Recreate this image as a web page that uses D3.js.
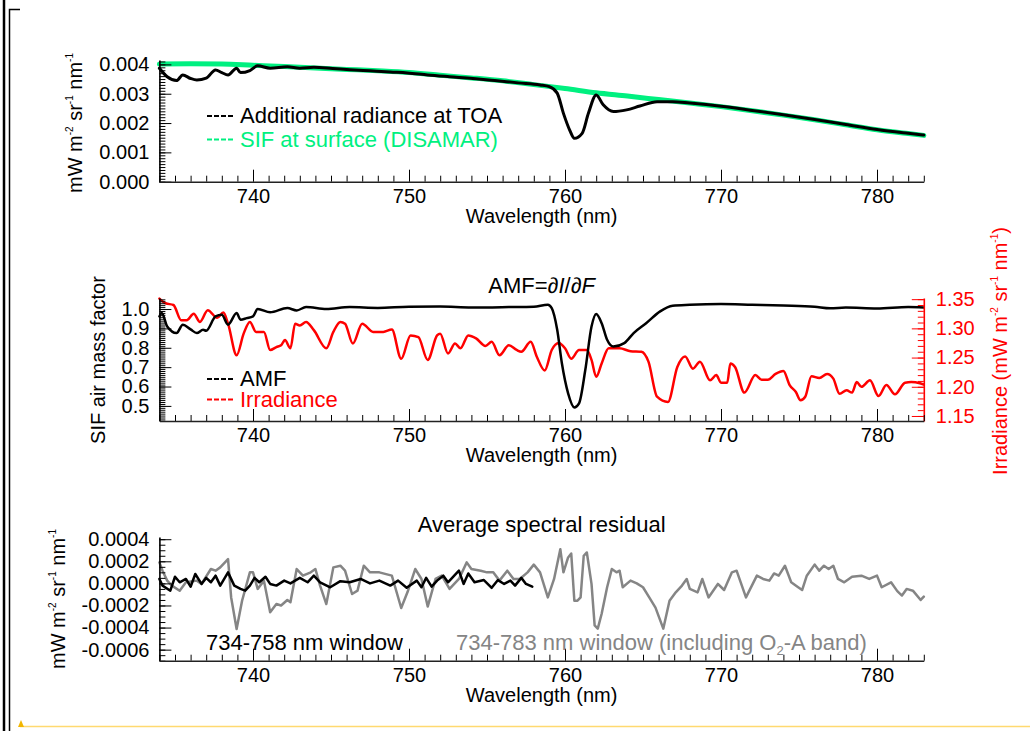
<!DOCTYPE html>
<html>
<head>
<meta charset="utf-8">
<script src="https://cdn.jsdelivr.net/npm/d3@7"></script>
<style>
body{margin:0;background:#fff;}
</style>
</head>
<body>
<svg id="chart" width="1030" height="731"></svg>
<script>
// ---- data (wavelength nm, value) ----
const sifSurface = [[734,0.00401],[736,0.00402],[738,0.00401],[740,0.00397],[742,0.00393],[744,0.00388],[746,0.00383],[748,0.00378],[750,0.00372],[752,0.00363],[754,0.00354],[756,0.00344],[758,0.00331],[760,0.00318],[762,0.00303],[764,0.00292],[766,0.00280],[768,0.00268],[770,0.00256],[772,0.00242],[774,0.00227],[776,0.00211],[778,0.00194],[780,0.00177],[782,0.00164],[783,0.00158]];

const toaRadiance = [[734.0,0.00387],[734.5,0.00358],[735.1,0.00345],[735.5,0.00364],[736.0,0.00352],[736.4,0.00347],[737.0,0.00353],[737.6,0.00381],[738.0,0.00372],[738.4,0.00364],[738.95,0.00387],[739.2,0.00372],[739.8,0.00379],[740.3,0.00395],[741.1,0.00387],[742.2,0.00392],[743.0,0.00387],[743.9,0.00390],[745.1,0.00386],[746.2,0.00382],[747.5,0.00378],[748.8,0.00374],[749.9,0.00371],[751.2,0.00364],[752.6,0.00358],[754.1,0.00352],[755.5,0.00345],[757.0,0.00337],[758.4,0.00330],[759.0,0.00324],[759.5,0.00302],[759.9,0.00233],[760.3,0.00176],[760.6,0.00148],[761.1,0.00165],[761.5,0.00233],[762.0,0.00296],[762.45,0.00262],[763.1,0.00239],[763.95,0.00245],[764.8,0.00258],[765.9,0.00273],[766.9,0.00273],[768.0,0.00268],[770.0,0.00257],[772.0,0.00243],[774.0,0.00228],[776.0,0.00212],[778.0,0.00195],[780.0,0.00178],[782.0,0.00165],[783.0,0.00159]];

const amf = [[734.0,0.962],[734.15,0.98],[734.5,0.91],[735.1,0.876],[735.5,0.919],[736.0,0.895],[736.4,0.876],[736.8,0.893],[737.0,0.888],[737.6,0.962],[738.0,0.97],[738.4,0.919],[738.95,0.979],[739.2,0.945],[739.6,0.953],[740.0,0.962],[740.3,1.0],[741.1,0.983],[742.2,1.005],[742.8,0.993],[743.4,1.01],[744.7,1.0],[746.2,1.01],[748.0,1.006],[750.0,1.012],[752.0,1.013],[754.0,1.008],[756.4,1.01],[758.0,1.012],[758.9,1.022],[759.15,1.005],[759.5,0.893],[759.8,0.72],[760.2,0.565],[760.6,0.492],[760.9,0.513],[761.3,0.685],[761.7,0.91],[762.0,0.975],[762.35,0.927],[762.7,0.841],[763.1,0.806],[763.8,0.824],[764.4,0.876],[765.2,0.927],[766.1,0.988],[766.9,1.017],[768.0,1.022],[770.0,1.026],[772.0,1.022],[774.0,1.018],[776.0,1.012],[777.0,1.004],[778.0,1.008],[780.0,1.003],[782.0,1.01],[783.0,1.008]];

const irradiance = [[734.0,1.351],[734.4,1.343],[734.9,1.340],[735.4,1.314],[735.75,1.314],[736.2,1.325],[736.6,1.311],[737.1,1.331],[737.7,1.318],[738.1,1.327],[738.4,1.308],[738.95,1.254],[739.4,1.291],[739.8,1.311],[740.2,1.294],[740.7,1.294],[741.1,1.263],[741.5,1.268],[741.8,1.271],[742.05,1.280],[742.4,1.266],[742.7,1.308],[743.0,1.305],[743.4,1.311],[743.9,1.297],[744.7,1.266],[745.15,1.294],[745.6,1.311],[745.9,1.308],[746.4,1.274],[747.0,1.308],[747.7,1.294],[748.35,1.294],[748.9,1.298],[749.5,1.248],[750.1,1.288],[750.6,1.285],[751.2,1.246],[751.8,1.288],[752.0,1.291],[752.5,1.257],[752.95,1.274],[753.3,1.266],[753.8,1.288],[754.3,1.283],[754.9,1.270],[755.3,1.277],[755.8,1.254],[756.4,1.271],[756.9,1.263],[757.2,1.260],[757.8,1.277],[758.2,1.251],[758.7,1.228],[759.15,1.263],[759.6,1.275],[760.0,1.266],[760.4,1.248],[760.9,1.263],[761.4,1.263],[761.7,1.246],[762.0,1.217],[762.35,1.240],[762.8,1.266],[763.5,1.266],[764.2,1.261],[764.9,1.260],[765.35,1.243],[765.9,1.183],[766.6,1.174],[767.2,1.234],[767.7,1.252],[768.2,1.231],[768.65,1.243],[769.3,1.211],[769.7,1.220],[770.0,1.207],[770.4,1.207],[770.6,1.240],[770.9,1.234],[771.5,1.190],[772.2,1.220],[772.6,1.212],[773.0,1.212],[773.5,1.222],[774.0,1.227],[774.4,1.203],[774.8,1.191],[775.1,1.177],[775.4,1.183],[775.8,1.218],[776.3,1.215],[776.8,1.222],[777.2,1.214],[777.6,1.188],[778.05,1.194],[778.4,1.190],[778.7,1.208],[779.0,1.200],[779.55,1.211],[780.1,1.184],[780.6,1.203],[781.15,1.187],[781.8,1.207],[782.2,1.208],[782.75,1.206],[783.0,1.204]];

const residualFull = [[734.0,0.00019],[734.2,0.000115],[734.5,0.000025],[734.8,-0.00002],[735.3,-0.000066],[735.7,0.00001],[736.4,0.000025],[736.7,-0.000005],[737.3,0.00013],[737.6,0.000115],[737.9,0.000145],[738.4,0.00022],[738.6,-0.000127],[738.95,-0.000413],[739.3,-0.000157],[739.8,0.0001],[740.0,0.0001],[740.3,-0.00005],[740.7,0.000025],[741.1,-0.000262],[741.5,-0.000187],[741.8,-0.0002],[742.2,-0.00015],[742.4,-0.00017],[742.8,0.00013],[743.2,0.00007],[743.7,0.0001],[744.0,0.00013],[744.3,-0.00002],[744.7,-0.000187],[745.15,0.000145],[745.6,0.00016],[745.9,0.000115],[746.35,-0.000096],[746.7,-0.000066],[747.1,0.00016],[747.5,0.0001],[748.1,0.0001],[748.9,0.00007],[749.5,-0.000223],[749.9,-0.000081],[750.4,0.00013],[750.8,0.00004],[751.2,-0.00021],[751.7,0.00004],[752.1,0.00007],[752.6,-0.00005],[753.2,0.00004],[753.7,0.00019],[754.0,0.00013],[754.6,0.000115],[755.0,0.0001],[755.4,0.0001],[755.8,0.000025],[756.3,0.000115],[756.7,0.00004],[757.1,0.00004],[757.6,0.0001],[758.0,0.00017],[758.4,0.0001],[758.9,-0.000127],[759.3,0.00004],[759.7,0.00031],[759.9,0.0001],[760.2,0.000235],[760.4,0.00027],[760.6,-0.000157],[760.8,-0.000157],[761.0,-0.000127],[761.2,0.00025],[761.4,0.00028],[761.7,-0.000005],[761.9,-0.00038],[762.1,-0.00041],[762.35,-0.000275],[762.7,-0.000035],[763.0,0.00013],[763.3,0.0001],[763.5,0.000115],[763.7,-0.000035],[764.2,0.000025],[764.6,0],[765.0,-0.000035],[765.4,-0.000127],[765.8,-0.00022],[766.3,-0.00041],[766.7,-0.000157],[767.1,-0.000081],[767.5,-0.00002],[767.8,0.00004],[768.0,-0.00005],[768.5,-0.000081],[768.8,0.00004],[769.2,-0.000127],[769.8,-0.000005],[770.2,-0.00006],[770.7,0.0001],[771.0,0.000115],[771.6,-0.000127],[772.3,0.00007],[772.7,0.00004],[773.1,0.000025],[773.4,0.00009],[773.7,0.00007],[774.1,0.00016],[774.5,0.00001],[774.9,-0.00003],[775.2,-0.00006],[775.5,0.00007],[776.0,0.00017],[776.3,0.000115],[776.6,0.00016],[776.9,0.00013],[777.2,0.00016],[777.5,0.00004],[777.9,0.00001],[778.4,0.00006],[779.0,0.00007],[779.5,0.00004],[780.0,0.00007],[780.3,-0.000035],[780.9,0.00001],[781.3,-0.00007],[781.6,-0.00011],[781.9,-0.00005],[782.3,-0.000066],[782.8,-0.00015],[783.0,-0.00012]];

const residualWindow = [[734.0,0.00004],[734.2,-0.00002],[734.7,-0.000066],[735.0,0.00006],[735.3,0.00001],[735.7,0.00004],[736.0,-0.00003],[736.3,0.000085],[736.7,-0.000005],[737.0,0.00005],[737.3,0.00001],[737.6,0.00007],[737.9,-0.00002],[738.4,0.0001],[738.8,-0.00002],[739.2,-0.00005],[739.5,-0.000066],[739.8,-0.00002],[740.1,0.00005],[740.4,0.00001],[740.8,0.00006],[741.1,-0.000005],[741.5,-0.00002],[742.0,0.000025],[742.4,0],[743.0,0.00005],[743.5,0.00001],[743.9,0.00007],[744.3,0.00001],[744.95,-0.000035],[745.6,0.00002],[746.2,0.00001],[746.9,0.00004],[747.5,0],[748.1,0.000025],[748.8,-0.00002],[749.3,0.000025],[749.85,-0.00004],[750.5,0.000025],[750.8,-0.000035],[751.1,0.00005],[751.45,-0.00003],[751.8,0.000025],[752.2,0.00007],[752.5,0.00001],[752.9,0.00007],[753.2,0.000115],[753.5,-0.000005],[753.8,0.00009],[754.2,0.00001],[754.8,0.00003],[755.3,-0.00004],[755.7,0.00003],[756.1,-0.000005],[756.5,0.000025],[756.8,-0.00002],[757.2,0.00005],[757.5,-0.000005],[757.9,-0.00003]];

// ---- tick values ----
const xMajor = [740, 750, 760, 770, 780];
const topTicks = [0, 0.001, 0.002, 0.003, 0.004];
const amfTicks = [0.5, 0.6, 0.7, 0.8, 0.9, 1.0];
const irrTicks = [1.15, 1.20, 1.25, 1.30, 1.35];
const resTicks = [-0.0006, -0.0004, -0.0002, 0, 0.0002, 0.0004];

const FONT = '"Liberation Sans", Arial, Helvetica, sans-serif';
const GREEN = "#00f080", RED = "#ff0000", GREY = "#858585";

const svg = d3.select("#chart");

// page frame bits
svg.append("line").attr("x1", 4).attr("x2", 4).attr("y1", 0).attr("y2", 731)
    .attr("stroke", "#000").attr("stroke-width", 2.5);
svg.append("path").attr("d", "M20,9.5H9.5V731").attr("fill", "none")
    .attr("stroke", "#000").attr("stroke-width", 1.5);
svg.append("line").attr("x1", 20).attr("x2", 1030).attr("y1", 726.5).attr("y2", 726.5)
    .attr("stroke", "#ffd970").attr("stroke-width", 1.5);
svg.append("path").attr("d", "M18,727L21,720L24,727Z").attr("fill", "#f2b600");

const x = d3.scaleLinear().domain([734, 783]).range([159.4, 923.8]);
const xMinor = d3.range(734, 784).filter(d => d % 10 !== 0);

const yTop = d3.scaleLinear().domain([0, 0.00415]).range([181.7, 60]);
const yAmf = d3.scaleLinear().domain([0.422, 1.057]).range([421, 298]);
const yIrr = d3.scaleLinear().domain([1.1414, 1.352]).range([421, 298]);
const yRes = d3.scaleLinear().domain([-0.0007, 0.00042]).range([660.7, 537]);

function styleAxis(g, color) {
    g.selectAll(".domain").attr("stroke", color).attr("stroke-width", 1.6);
    g.selectAll(".tick line").attr("stroke", color).attr("stroke-width", 1);
    g.selectAll(".tick text").attr("fill", color)
        .style("font-family", FONT).style("font-size", "20px");
}

function drawXAxis(yPix) {
    let gm = svg.append("g").attr("transform", `translate(0,${yPix})`)
        .call(d3.axisBottom(x).tickValues(xMinor).tickSize(-6).tickFormat(""));
    gm.select(".domain").remove();
    styleAxis(gm, "#000");
    let g = svg.append("g").attr("transform", `translate(0,${yPix})`)
        .call(d3.axisBottom(x).tickValues(xMajor).tickSizeInner(-12).tickSizeOuter(0)
            .tickPadding(7).tickFormat(d3.format("d")));
    styleAxis(g, "#000");
    g.select(".domain").attr("stroke", "#222");
    svg.append("text").attr("x", 541.6).attr("y", yPix + 41).attr("text-anchor", "middle")
        .style("font-family", FONT).style("font-size", "20px").text("Wavelength (nm)");
}

function drawYAxis(scale, major, minor, fmt, xPix, color, right) {
    let maker = right ? d3.axisRight : d3.axisLeft;
    let gm = svg.append("g").attr("transform", `translate(${xPix},0)`)
        .call(maker(scale).tickValues(minor).tickSize(-6).tickFormat(""));
    gm.select(".domain").remove();
    styleAxis(gm, color);
    let g = svg.append("g").attr("transform", `translate(${xPix},0)`)
        .call(maker(scale).tickValues(major).tickSizeInner(-12).tickSizeOuter(0)
            .tickPadding(right ? 12 : 10).tickFormat(fmt));
    styleAxis(g, color);
}

// rotated label with superscripts
function unitLabel(xPix, yPix, prefix, color, suffix) {
    let t = svg.append("text")
        .attr("transform", `translate(${xPix},${yPix}) rotate(-90)`)
        .attr("text-anchor", "middle").attr("fill", color)
        .style("font-family", FONT).style("font-size", "20px");
    t.append("tspan").text(prefix + "mW m");
    t.append("tspan").attr("dy", -9).style("font-size", "10px").text("-2");
    t.append("tspan").attr("dy", 9).text(" sr");
    t.append("tspan").attr("dy", -9).style("font-size", "10px").text("-1");
    t.append("tspan").attr("dy", 9).text(" nm");
    t.append("tspan").attr("dy", -9).style("font-size", "10px").text("-1");
    t.append("tspan").attr("dy", 9).text(suffix);
}

function legendEntry(xPix, yBase, color, label) {
    svg.append("line").attr("x1", xPix).attr("x2", xPix + 26)
        .attr("y1", yBase - 7).attr("y2", yBase - 7)
        .attr("stroke", color).attr("stroke-width", 2).attr("stroke-dasharray", "5,2");
    return svg.append("text").attr("x", xPix + 33).attr("y", yBase).attr("fill", color)
        .style("font-family", FONT).style("font-size", "22px").text(label);
}

function drawLine(data, yScale, color, width, curve) {
    svg.append("path").datum(data)
        .attr("fill", "none").attr("stroke", color).attr("stroke-width", width)
        .attr("stroke-linejoin", "round").attr("stroke-linecap", "round")
        .attr("d", d3.line().x(d => x(d[0])).y(d => yScale(d[1])).curve(curve || d3.curveLinear));
}

const minorOf = (lo, hi, step) => d3.range(Math.round(lo / step), Math.round(hi / step) + 1).map(i => i * step);

// ---------- top panel ----------
drawLine(sifSurface, yTop, GREEN, 5, d3.curveMonotoneX);
drawLine(toaRadiance, yTop, "#000", 3, d3.curveMonotoneX);
drawYAxis(yTop, topTicks, minorOf(0, 0.0041, 0.0001), d3.format(".3f"), 159.4, "#000", false);
drawXAxis(181.7);
unitLabel(82, 123, "", "#000", "");
legendEntry(207, 123, "#000", "Additional radiance at TOA");
legendEntry(207, 146.5, GREEN, "SIF at surface (DISAMAR)");

// ---------- middle panel ----------
drawLine(irradiance, yIrr, RED, 2.5, d3.curveMonotoneX);
drawLine(amf, yAmf, "#000", 2.5, d3.curveMonotoneX);
drawYAxis(yAmf, amfTicks, minorOf(0.43, 1.05, 0.01), d3.format(".1f"), 159.4, "#000", false);
drawYAxis(yIrr, irrTicks, minorOf(1.15, 1.35, 0.01), d3.format(".2f"), 923.8, RED, true);
drawXAxis(421);
svg.append("text").attr("transform", "translate(105,360) rotate(-90)")
    .attr("text-anchor", "middle").style("font-family", FONT).style("font-size", "20px")
    .text("SIF air mass factor");
unitLabel(1007, 351, "Irradiance (", RED, ")");
legendEntry(207, 386, "#000", "AMF");
legendEntry(207, 406.5, RED, "Irradiance");

let title = svg.append("text").attr("x", 541.6).attr("y", 293).attr("text-anchor", "middle")
    .style("font-family", FONT).style("font-size", "22px");
title.append("tspan").text("AMF=\u2202");
title.append("tspan").style("font-style", "italic").text("I");
title.append("tspan").text("/\u2202");
title.append("tspan").style("font-style", "italic").text("F");

// ---------- bottom panel ----------
drawLine(residualFull, yRes, GREY, 2.5);
drawLine(residualWindow, yRes, "#000", 2.5);
drawYAxis(yRes, resTicks, minorOf(-0.0007, 0.0004, 0.00005),
    d => d3.format(".4f")(d).replace("\u2212", "-"), 159.4, "#000", false);
drawXAxis(660.7);
unitLabel(65, 599, "", "#000", "");
svg.append("text").attr("x", 541.6).attr("y", 532).attr("text-anchor", "middle")
    .style("font-family", FONT).style("font-size", "22px").text("Average spectral residual");
svg.append("text").attr("x", 206).attr("y", 650)
    .style("font-family", FONT).style("font-size", "22px").text("734-758 nm window");
let gl = svg.append("text").attr("x", 456).attr("y", 650).attr("fill", GREY)
    .style("font-family", FONT).style("font-size", "22px");
gl.append("tspan").text("734-783 nm window (including O");
gl.append("tspan").attr("dy", 5).style("font-size", "13px").text("2");
gl.append("tspan").attr("dy", -5).text("-A band)");
</script>
</body>
</html>
